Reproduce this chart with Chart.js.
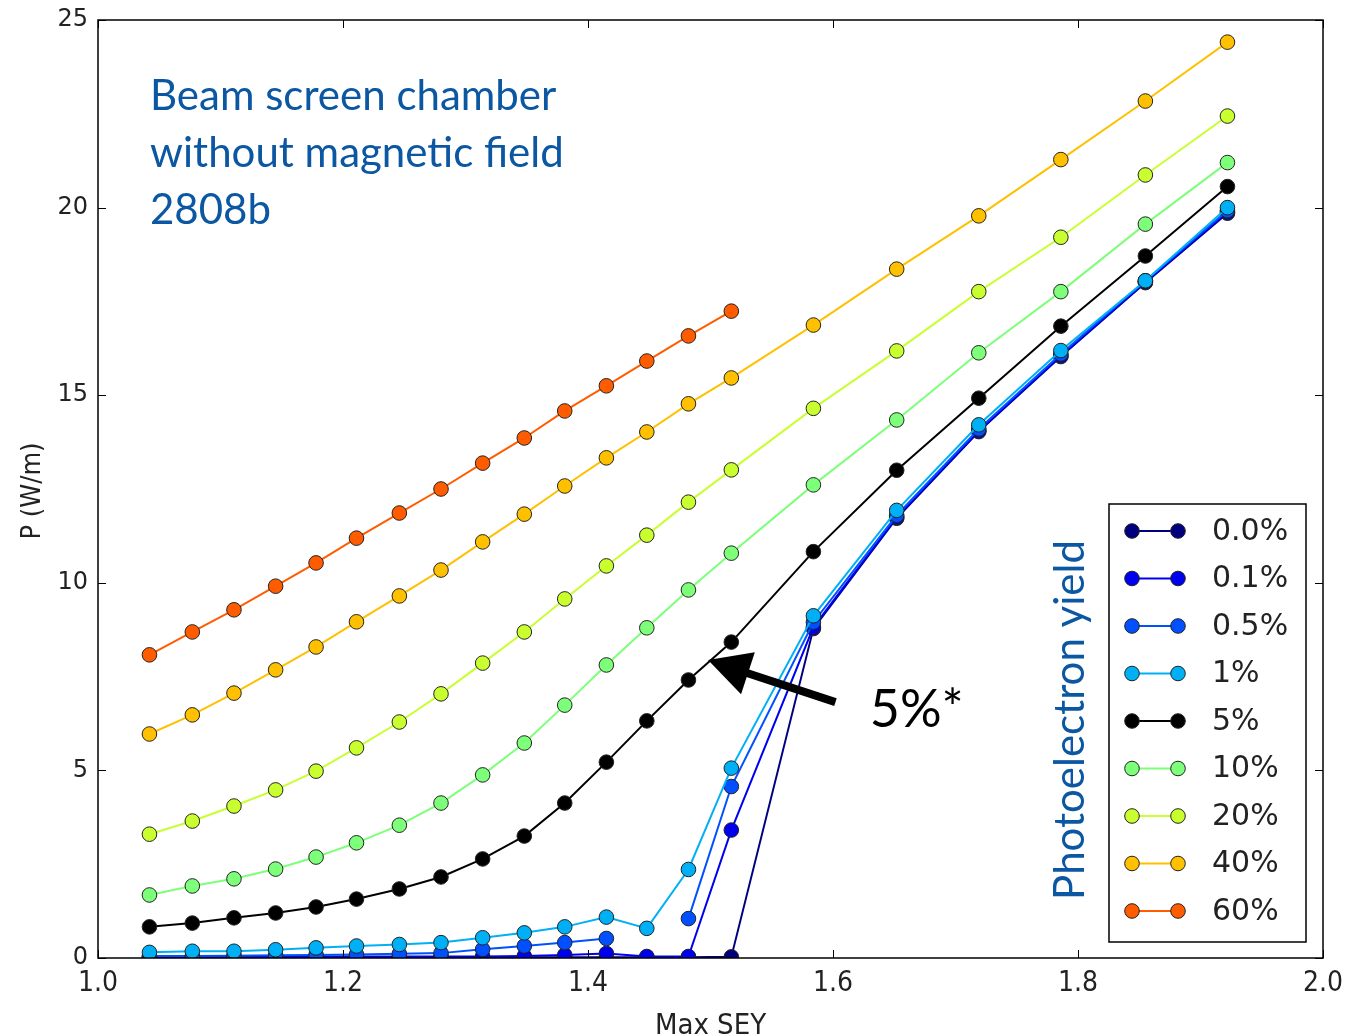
<!DOCTYPE html>
<html>
<head>
<meta charset="utf-8">
<script src="https://cdn.jsdelivr.net/npm/chart.js@4.4.1/dist/chart.umd.min.js"></script>
<style>
  html, body { margin: 0; padding: 0; background: #fff; }
  #wrap { width: 1345px; height: 1036px; }
</style>
</head>
<body>
<div id="wrap"><canvas id="c" width="1345" height="1036"></canvas></div>
<script>
// ---- data ----
const maxSEY = [1.042,1.077,1.111,1.145,1.178,1.211,1.246,1.280,1.314,1.348,1.381,1.415,1.448,1.482,1.517,1.584,1.652,1.719,1.786,1.855,1.922];
const seriesLabels = ['0.0%','0.1%','0.5%','1%','5%','10%','20%','40%','60%'];
const p00 = [0.02,0.02,0.02,0.02,0.02,0.02,0.02,0.02,0.02,0.02,0.02,0.02,0.02,0.02,0.03,8.78,11.72,14.03,16.03,18.00,19.85];
const p01 = [0.03,0.03,0.03,0.04,0.04,0.04,0.04,0.04,0.04,0.05,0.08,0.12,0.04,0.04,3.41,8.82,11.75,14.05,16.05,18.02,19.88];
const p05 = [0.05,0.05,0.06,0.07,0.08,0.09,0.11,0.13,0.23,0.32,0.41,0.52,null,1.05,4.57,8.95,11.80,14.10,16.10,18.05,19.92];
const p1  = [0.15,0.18,0.18,0.22,0.27,0.32,0.36,0.41,0.54,0.67,0.83,1.09,0.79,2.36,5.06,9.12,11.93,14.21,16.19,18.05,20.00];
const p5  = [0.83,0.93,1.07,1.20,1.36,1.57,1.84,2.16,2.64,3.25,4.13,5.22,6.32,7.41,8.42,10.83,13.00,14.92,16.84,18.71,20.56];
const p10 = [1.68,1.92,2.11,2.37,2.69,3.07,3.54,4.13,4.88,5.73,6.74,7.81,8.80,9.81,10.79,12.61,14.34,16.13,17.76,19.56,21.20];
const p20 = [3.30,3.65,4.05,4.48,4.98,5.60,6.29,7.04,7.86,8.69,9.57,10.45,11.27,12.15,13.01,14.65,16.18,17.76,19.21,20.87,22.44];
const p40 = [5.97,6.48,7.06,7.68,8.29,8.96,9.65,10.34,11.09,11.83,12.58,13.33,14.02,14.77,15.46,16.87,18.36,19.78,21.28,22.84,24.41];
const p60 = [8.08,8.69,9.28,9.91,10.53,11.19,11.86,12.50,13.19,13.86,14.58,15.25,15.91,16.58,17.24];
const allSeries = [p00,p01,p05,p1,p5,p10,p20,p40,p60];
const xTicks = [1.0,1.2,1.4,1.6,1.8,2.0];
const yTicks = [0,5,10,15,20,25];

// ---- styles ----
const colors = ['#00007f','#0000f0','#0050ff','#00b0f6','#000000','#7dff7a','#c9ff2f','#ffc000','#ff5c00'];
const blueText = '#0b57a2';

const datasets = allSeries.map((arr, i) => ({
  label: seriesLabels[i],
  data: arr.map((v, j) => ({ x: maxSEY[j], y: v })),
  borderColor: colors[i],
  backgroundColor: colors[i],
  pointBackgroundColor: colors[i],
  pointBorderColor: '#222',
  pointBorderWidth: 1,
  pointRadius: 7.3,
  borderWidth: 2,
  showLine: true,
  spanGaps: false,
  order: allSeries.length - i
}));

const decor = {
  id: 'decor',
  afterDraw(chart) {
    const ctx = chart.ctx;
    const a = chart.chartArea;
    const xs = chart.scales.x, ys = chart.scales.y;
    ctx.save();
    // frame
    ctx.strokeStyle = '#000';
    ctx.lineWidth = 1.5;
    ctx.strokeRect(a.left, a.top, a.right - a.left, a.bottom - a.top);
    // inward ticks on all sides
    ctx.lineWidth = 1;
    const tl = 8;
    xTicks.forEach(v => {
      const px = Math.round(xs.getPixelForValue(v)) + 0.5;
      ctx.beginPath();
      ctx.moveTo(px, a.bottom); ctx.lineTo(px, a.bottom - tl);
      ctx.moveTo(px, a.top); ctx.lineTo(px, a.top + tl);
      ctx.stroke();
    });
    yTicks.forEach(v => {
      const py = Math.round(ys.getPixelForValue(v)) + 0.5;
      ctx.beginPath();
      ctx.moveTo(a.left, py); ctx.lineTo(a.left + tl, py);
      ctx.moveTo(a.right, py); ctx.lineTo(a.right - tl, py);
      ctx.stroke();
    });
    // axis titles
    ctx.fillStyle = '#222';
    ctx.font = '29px "DejaVu Sans Condensed", "DejaVu Sans"';
    ctx.textAlign = 'center';
    ctx.textBaseline = 'alphabetic';
    ctx.fillText('Max SEY', (a.left + a.right) / 2, 1034);
    ctx.save();
    ctx.translate(33, 491);
    ctx.rotate(-Math.PI / 2);
    ctx.textBaseline = 'middle';
    ctx.font = '27px "DejaVu Sans Condensed", "DejaVu Sans"';
    ctx.fillText('P (W/m)', 0, 0);
    ctx.restore();

    // title text block
    ctx.fillStyle = blueText;
    ctx.font = '42px Lato';
    ctx.textAlign = 'left';
    ctx.textBaseline = 'alphabetic';
    ctx.fillText('Beam screen chamber', 150, 110);
    ctx.fillText('without magnetic field', 150, 167);
    ctx.fillText('2808b', 150, 224);

    // legend
    const lx = 1109, ly = 504, lw = 197, lh = 438;
    ctx.fillStyle = '#fff';
    ctx.fillRect(lx, ly, lw, lh);
    ctx.strokeStyle = '#000';
    ctx.lineWidth = 1.5;
    ctx.strokeRect(lx, ly, lw, lh);
    seriesLabels.forEach((lab, i) => {
      const cy = 531 + i * 47.5;
      const x1 = 1132, x2 = 1178;
      ctx.strokeStyle = colors[i];
      ctx.lineWidth = 2;
      ctx.beginPath(); ctx.moveTo(x1, cy); ctx.lineTo(x2, cy); ctx.stroke();
      [x1, x2].forEach(px => {
        ctx.beginPath();
        ctx.arc(px, cy, 7.3, 0, Math.PI * 2);
        ctx.fillStyle = colors[i];
        ctx.fill();
        ctx.strokeStyle = '#222';
        ctx.lineWidth = 1;
        ctx.stroke();
      });
      ctx.fillStyle = '#222';
      ctx.font = '30px "DejaVu Sans"';
      ctx.textAlign = 'left';
      ctx.textBaseline = 'middle';
      ctx.fillText(lab, 1212, cy + 1);
    });

    // legend side title
    ctx.save();
    ctx.translate(1084, 720);
    ctx.rotate(-Math.PI / 2);
    ctx.fillStyle = blueText;
    ctx.font = '42px Lato';
    ctx.textAlign = 'center';
    ctx.textBaseline = 'alphabetic';
    ctx.fillText('Photoelectron yield', 0, 0);
    ctx.restore();

    // arrow annotation
    const tipX = xs.getPixelForValue(1.498), tipY = ys.getPixelForValue(7.94);
    const tailX = xs.getPixelForValue(1.602), tailY = ys.getPixelForValue(6.82);
    const ang = Math.atan2(tipY - tailY, tipX - tailX);
    const headLen = 42, headW = 22;
    const bx = tipX - headLen * Math.cos(ang), by = tipY - headLen * Math.sin(ang);
    ctx.strokeStyle = '#000';
    ctx.lineWidth = 8;
    ctx.beginPath(); ctx.moveTo(tailX, tailY); ctx.lineTo(bx + 5 * Math.cos(ang), by + 5 * Math.sin(ang)); ctx.stroke();
    ctx.fillStyle = '#000';
    ctx.beginPath();
    ctx.moveTo(tipX, tipY);
    ctx.lineTo(bx + headW * Math.sin(ang), by - headW * Math.cos(ang));
    ctx.lineTo(bx - headW * Math.sin(ang), by + headW * Math.cos(ang));
    ctx.closePath();
    ctx.fill();
    ctx.font = '52px Lato';
    ctx.textAlign = 'left';
    ctx.textBaseline = 'alphabetic';
    ctx.fillText('5%*', xs.getPixelForValue(1.630), ys.getPixelForValue(6.15));
    ctx.restore();
  }
};

new Chart(document.getElementById('c'), {
  type: 'scatter',
  data: { datasets },
  options: {
    responsive: false,
    animation: false,
    events: [],
    layout: { padding: { left: 0, right: 22, top: 20, bottom: 0 } },
    plugins: { legend: { display: false }, tooltip: { enabled: false } },
    scales: {
      x: {
        type: 'linear', min: 1.0, max: 2.0,
        afterBuildTicks: s => { s.ticks = xTicks.map(v => ({ value: v })); },
        afterFit: s => { s.height = 78; s.paddingLeft = 0; s.paddingRight = 0; },
        grid: { display: false, drawTicks: false },
        border: { display: false },
        ticks: { padding: 9, color: '#222', font: { family: '"DejaVu Sans Condensed", "DejaVu Sans"', size: 28 }, callback: v => Number(v).toFixed(1), maxRotation: 0 }
      },
      y: {
        type: 'linear', min: 0, max: 25,
        afterBuildTicks: s => { s.ticks = yTicks.map(v => ({ value: v })); },
        afterFit: s => { s.width = 98; s.paddingTop = 0; s.paddingBottom = 0; },
        grid: { display: false, drawTicks: false },
        border: { display: false },
        ticks: { padding: 10, color: '#222', font: { family: '"DejaVu Sans"', size: 24 }, callback: v => String(v) }
      }
    }
  },
  plugins: [decor]
});
</script>
</body>
</html>
